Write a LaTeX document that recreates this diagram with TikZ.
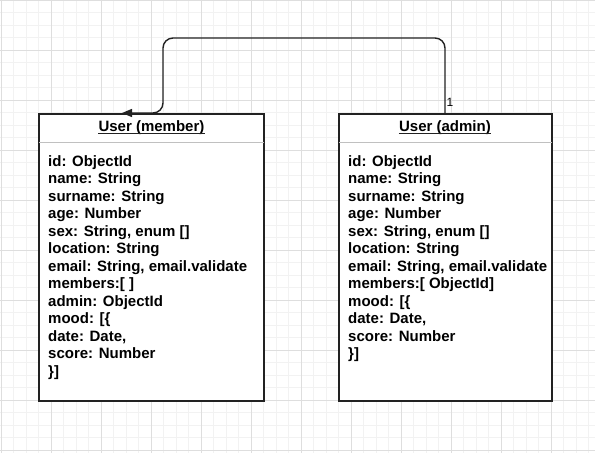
\documentclass[tikz,border=0pt]{standalone}
\usepackage{fontspec}
\setmainfont{Liberation Sans}
\usetikzlibrary{arrows.meta}
\definecolor{minorgrid}{HTML}{F2F2F2}
\definecolor{majorgrid}{HTML}{DEDEDE}
\definecolor{edge}{HTML}{222222}
\definecolor{sepline}{HTML}{C0C0C0}
\tikzset{
  umlbox/.style={draw=edge, line width=1.6pt, fill=white, inner sep=0pt, anchor=north west},
  headtext/.style={font=\bfseries\fontsize{15pt}{17.5pt}\selectfont, inner sep=0pt, text=black, anchor=base},
  headline/.style={draw=edge, line width=1.3pt},
  bodytext/.style={font=\bfseries\fontsize{15pt}{17.5pt}\selectfont, inner sep=0pt, align=left, anchor=north west, text=black},
  link/.style={draw=edge, line width=1.4pt, rounded corners=10pt, -{Triangle[length=10pt,width=8pt]}},
  multlabel/.style={font=\fontsize{12pt}{13pt}\selectfont, inner sep=0pt, text=black}
}
\begin{document}
\begin{tikzpicture}[x=1pt,y=-1pt]
\useasboundingbox (0,0) rectangle (595,453);
\fill[white] (0,0) rectangle (595,453);
% grid
\foreach \i in {0,...,48} {
  \draw[minorgrid, line width=0.6pt] ({1+12.5*\i},0) -- ({1+12.5*\i},453);
}
\foreach \j in {0,...,37} {
  \draw[minorgrid, line width=0.6pt] (0,{12.5*\j}) -- (595,{12.5*\j});
}
\foreach \i in {0,...,12} {
  \draw[majorgrid, line width=0.7pt] ({1+50*\i},0) -- ({1+50*\i},453);
}
\foreach \j in {0,...,9} {
  \draw[majorgrid, line width=0.7pt] (0,{50*\j}) -- (595,{50*\j});
}
% boxes
\node[umlbox, minimum width=225pt, minimum height=287pt] (member) at (38,113) {};
\node[umlbox, minimum width=213pt, minimum height=287pt] (admin) at (338,113) {};
\draw[sepline, line width=1.6pt] ([xshift=0.8pt,yshift=-29.5pt]member.north west) -- ([xshift=-0.8pt,yshift=-29.5pt]member.north east);
\draw[sepline, line width=1.6pt] ([xshift=0.8pt,yshift=-29.5pt]admin.north west) -- ([xshift=-0.8pt,yshift=-29.5pt]admin.north east);
% headers
\node[headtext] (memberhead) at (151.5,131.5) {User (member)};
\node[headtext] (adminhead) at (445,131.5) {User (admin)};
\draw[headline] ([yshift=-1.8pt]memberhead.base west) -- ([yshift=-1.8pt]memberhead.base east);
\draw[headline] ([yshift=-1.8pt]adminhead.base west) -- ([yshift=-1.8pt]adminhead.base east);
% bodies
\node[bodytext] (memberbody) at (48,155) {id: ObjectId\\name: String\\surname: String\\age: Number\\sex: String, enum []\\location: String\\email: String, email.validate\\members:[ ]\\admin: ObjectId\\mood: [\{\\date: Date,\\score: Number\\\}]};
\node[bodytext] (adminbody) at (348,155) {id: ObjectId\\name: String\\surname: String\\age: Number\\sex: String, enum []\\location: String\\email: String, email.validate\\members:[ ObjectId]\\mood: [\{\\date: Date,\\score: Number\\\}]};
% connector
\coordinate (start) at ([xshift=107pt]admin.north west);
\coordinate (tip) at ([xshift=84pt]member.north west);
\draw[link] (start) -- (445,38) -- (163,38) -- (163,113) -- (tip);
\node[multlabel] (mult) at (450,102.5) {1};
\end{tikzpicture}
\end{document}
